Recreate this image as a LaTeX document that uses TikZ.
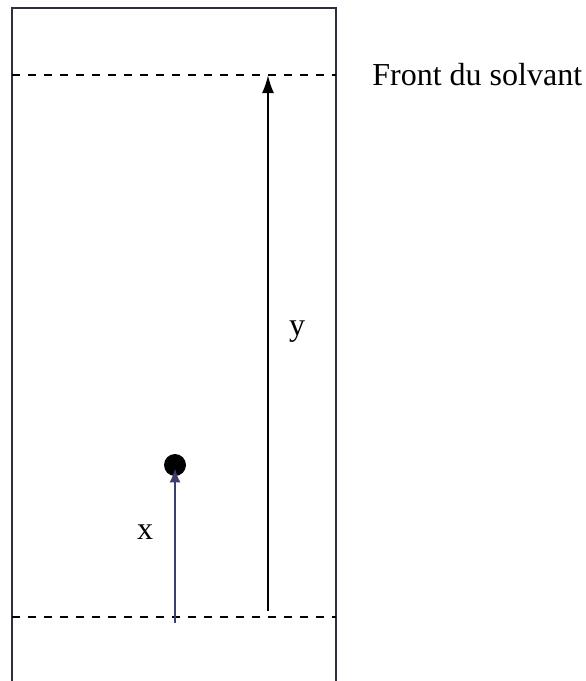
\documentclass[tikz,border=0pt]{standalone}
\usepackage{fontspec}
\setmainfont{Liberation Serif}
\usetikzlibrary{arrows.meta}
\definecolor{plate}{HTML}{2E2E3E}
\definecolor{spotline}{HTML}{3C3F6E}

\begin{document}
\begin{tikzpicture}[x=0.5pt,y=-0.5pt,font=\fontsize{16}{19}\selectfont,
  platebox/.style={draw=plate,line width=1.1pt},
  levelline/.style={draw=black,dashed,dash pattern=on 4.2pt off 3.8pt,line width=0.8pt},
  runarrow/.style={line width=1pt,-{Latex[length=9pt,width=6pt]}}]
\useasboundingbox (0,0) rectangle (585,681);
% ---- the plate (open at the bottom) -------------------------------------
\draw[platebox] (12,681) -- (12,8) -- (336,8) -- (336,681);
% ---- solvent front and starting line ------------------------------------
\coordinate (frontL) at (12,75);
\coordinate (frontR) at (336,75);
\coordinate (startL) at (12,617);
\coordinate (startR) at (336,617);
\draw[levelline] (frontL) -- (frontR);
\draw[levelline] (startL) -- (startR);
\node[anchor=west,inner sep=0pt] (front) at (372,75) {Front du solvant};
% ---- the spot and its run ------------------------------------------------
\node[circle,fill=black,inner sep=0pt,minimum size=11pt] (spot) at (175,465) {};
\coordinate (spotbase) at (175,623);
\draw[runarrow,spotline,-{Latex[length=7pt,width=5.5pt]}] (spotbase) -- ([yshift=4pt]spot.south);
\node (xlab) at (145,532) {x};
% ---- the solvent run ------------------------------------------------------
\coordinate (solvbase) at (268,611);
\coordinate (solvtop) at (268,75);
\draw[runarrow,black] (solvbase) -- (solvtop);
\node (ylab) at (297,332) {y};
\end{tikzpicture}
\end{document}
